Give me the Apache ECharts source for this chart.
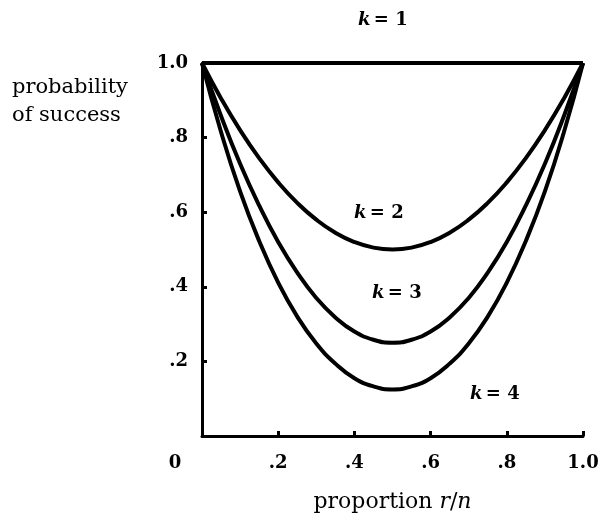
<!DOCTYPE html>
<html><head><meta charset="utf-8">
<script src="https://cdn.jsdelivr.net/npm/echarts@6/dist/echarts.min.js"></script>
<style>html,body{margin:0;padding:0;background:#fff}#c{width:600px;height:516px}</style>
</head><body><div id="c"></div>
<script>
const proportion = [0,0.05,0.1,0.15,0.2,0.25,0.3,0.35,0.4,0.45,0.5,0.55,0.6,0.65,0.7,0.75,0.8,0.85,0.9,0.95,1.0];
const k1 = [1,1,1,1,1,1,1,1,1,1,1,1,1,1,1,1,1,1,1,1,1];
const k2 = [1,0.905,0.82,0.745,0.68,0.625,0.58,0.545,0.52,0.505,0.5,0.505,0.52,0.545,0.58,0.625,0.68,0.745,0.82,0.905,1];
const k3 = [1,0.858,0.73,0.618,0.52,0.438,0.37,0.318,0.28,0.258,0.25,0.258,0.28,0.318,0.37,0.438,0.52,0.618,0.73,0.858,1];
const k4 = [1,0.815,0.656,0.523,0.411,0.32,0.248,0.194,0.155,0.133,0.125,0.133,0.155,0.194,0.248,0.32,0.411,0.523,0.656,0.815,1];
const yTickLabels = {0.2:'.2',0.4:'.4',0.6:'.6',0.8:'.8',1:'1.0'};
const xTickLabels = {0:'0',0.2:'.2',0.4:'.4',0.6:'.6',0.8:'.8',1:'1.0'};

const FONT = '"DejaVu Serif", "Liberation Serif", serif';
const chart = echarts.init(document.getElementById('c'), null, {renderer:'canvas'});
const mk = (arr) => proportion.map((x,i)=>[x,arr[i]]);
const lineSeries = (name, arr) => ({
  name, type:'line', data: mk(arr), smooth: true, showSymbol:false, symbol:'none',
  lineStyle:{color:'#000', width:4}, silent:true, animation:false, z:3
});
const kLabel = (n, x, y) => ({
  type:'text', left:x, top:y,
  style:{ text:'{i|k} {n|= ' + n + '}', rich:{
    i:{fontFamily:FONT, fontStyle:'italic', fontWeight:'bold', fontSize:18, fill:'#000'},
    n:{fontFamily:FONT, fontWeight:'bold', fontSize:18, fill:'#000'} } }
});
chart.setOption({
  animation:false,
  backgroundColor:'#fff',
  grid:{left:202, right:17, top:63, bottom:80, containLabel:false, outerBoundsMode:'none'},
  xAxis:{
    type:'value', min:0, max:1, interval:0.2,
    name:'{t|proportion} {i|r}{t|/}{i|n}', nameLocation:'middle', nameGap:55,
    nameTextStyle:{fontFamily:FONT, fontSize:22, color:'#000',
      rich:{t:{fontFamily:FONT, fontSize:22, color:'#000'}, i:{fontFamily:FONT, fontSize:22, fontStyle:'italic', color:'#000'}}},
    axisLine:{lineStyle:{color:'#000', width:3}},
    axisTick:{inside:true, length:5, lineStyle:{color:'#000', width:3}},
    axisLabel:{margin:18, fontFamily:FONT, fontSize:18, fontWeight:'bold', color:'#000',
      formatter:(v)=>{ const t = xTickLabels[Math.round(v*10)/10]; return v===0 ? '{z|' + t + '}' : t; },
      rich:{z:{fontFamily:FONT, fontSize:18, fontWeight:'bold', color:'#000', padding:[0,54,0,0]}}},
    splitLine:{show:false}
  },
  yAxis:{
    type:'value', min:0, max:1, interval:0.2,
    axisLine:{show:true, lineStyle:{color:'#000', width:3}},
    axisTick:{show:true, inside:true, length:5, lineStyle:{color:'#000', width:3}},
    axisLabel:{margin:14, fontFamily:FONT, fontSize:18, fontWeight:'bold', color:'#000',
      formatter:(v)=> v===0 ? '' : yTickLabels[Math.round(v*10)/10]},
    splitLine:{show:false}
  },
  graphic:[
    {type:'text', left:12, top:74, style:{text:'probability\nof success', fontFamily:FONT, fontSize:21, lineHeight:28, fill:'#000'}},
    kLabel(1, 358, 11),
    kLabel(2, 354, 204),
    kLabel(3, 372, 284),
    kLabel(4, 470, 385)
  ],
  series:[lineSeries('k=1',k1), lineSeries('k=2',k2), lineSeries('k=3',k3), lineSeries('k=4',k4)]
});
</script></body></html>
